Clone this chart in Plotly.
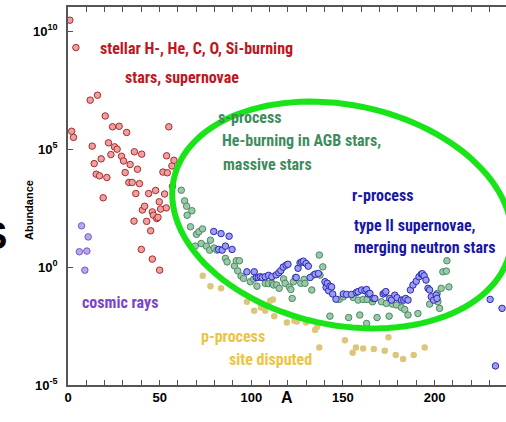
import numpy as np
import plotly.graph_objects as go

# ---------------- data (mass number A, log10 abundance) ----------------
red_A = [1, 2, 3, 4.3, 12.1, 13.2, 14.3, 15.4, 16.1, 17.2, 18.1, 19.2, 20.3, 21.2, 22.1, 23.4,
         24.3, 25.4, 26.8, 27.9, 29.2, 30.3, 31.2, 32.0, 33.2, 33.9, 35.0, 36.0, 36.2, 37.0,
         37.9, 39.0, 40.0, 40.2, 40.6, 41.8, 42.9, 44.0, 45.1, 46.0, 46.0, 46.6, 47.8, 48.4,
         49.1, 49.8, 50.0, 50.5, 51.8, 52.7, 53.6, 53.8, 54.2, 55.0, 56.7, 57.0, 57.8]
red_logY = [10.47, 5.76, 5.5, 9.31, 7.08, 5.13, 4.39, 3.94, 7.29, 3.87, 4.59, 2.94, 6.41, 3.8,
            5.27, 4.77, 5.95, 5.1, 5.0, 5.97, 4.70, 4.5, 4.01, 5.71, 3.59, 4.35, 3.59, 1.95,
            4.89, 3.12, 4.15, 3.54, 0.75, 4.79, 2.42, 2.58, 1.94, 3.12, 1.54, 2.34, 0.34, 2.2,
            3.25, 2.06, 2.11, 2.77, -0.13, 2.46, 4.03, 3.1, 2.51, 4.72, 4.0, 5.95, 4.29, 3.43,
            4.53]

purple_A = [6.2, 7.4, 9.2, 10.3, 11.0]
purple_logY = [0.65, 1.75, -0.13, 0.68, 1.28]

green_A = [61.8, 63.6, 64.7, 65.0, 66.8, 67.6, 69.4, 70.1, 71.4, 72.7, 73.4, 75.5, 77.3, 77.7,
           79.7, 81.3, 85.9, 86.8, 90.8, 91.8, 92.6, 93.5, 94.4, 95.8, 99.5, 101.3, 103.1,
           107.6, 109.4, 111.4, 112.1, 113.9, 115.2, 117.6, 118.5, 120.8, 121.6, 122.3, 123.0,
           124.1, 127.0, 128.8, 129.3, 133.0, 133.9, 135.7, 137.1, 137.5, 139.0, 142.9, 148.0,
           150.2, 153.1, 155.6, 158.3, 159.2, 161.0, 162.9, 163.2, 166.1, 168.6, 171.0, 173.7,
           175.2, 177.0, 179.2, 181.9, 183.7, 185.5, 190.9, 197.3, 200.0, 201.4, 201.8, 202.7,
           203.6, 204.5, 206.4, 206.7, 207.8]
green_logY = [3.26, 2.81, 2.58, 2.2, 1.71, 2.39, 0.89, 1.39, 1.5, 1.0, 1.62, 0.89, 0.72, 1.14,
              0.81, 0.72, 0.37, 0.22, 0.05, 0.27, -0.16, 0.27, -0.38, -0.48, -0.62, -0.51, -0.81,
              -0.69, -0.7, -0.69, -0.76, -0.76, -0.9, -0.5, -0.69, -0.85, -0.95, -1.33, -0.62,
              -0.44, -0.69, -0.52, -0.69, -0.97, -0.34, -0.3, 0.51, -0.34, 0.01, -2.08, -1.37,
              -1.26, -2.14, -1.29, -1.4, -2.03, -1.37, -2.39, -1.37, -1.47, -2.14, -1.47, -1.54,
              -2.08, -1.57, -1.61, -1.71, -1.8, -2.03, -1.97, -1.57, -1.26, -1.12, -1.47, -1.75,
              -0.9, -0.2, -0.17, 0.27, -0.84]

blue_A = [79.5, 82.2, 83.5, 84.1, 85.9, 87.9, 89.5, 97.6, 101.6, 102.7, 103.8, 104.9, 106.0,
          107.6, 109.4, 111.2, 113.6, 115.0, 116.1, 117.4, 119.0, 120.0, 124.5, 125.5, 126.6,
          127.5, 128.4, 129.9, 131.1, 132.1, 134.8, 136.6, 140.2, 140.8, 141.5, 142.2, 142.9,
          143.8, 144.4, 146.2, 150.2, 152.0, 154.7, 157.4, 158.3, 160.2, 162.0, 162.9, 163.8,
          164.7, 166.5, 167.4, 171.9, 172.8, 173.4, 175.5, 176.5, 178.3, 179.5, 181.9, 183.2,
          184.2, 185.5, 186.8, 188.2, 190.0, 191.5, 192.8, 193.3, 194.3, 195.3, 196.4, 197.3,
          198.2, 199.5, 200.9, 201.3, 230.3, 233.2, 236.8]
blue_logY = [1.51, 0.75, 1.42, 0.72, 0.89, 1.31, 0.75, -0.2, -0.2, -0.44, -0.44, -0.41, -0.44,
             -0.41, -0.35, -0.41, -0.33, -0.24, -0.15, 0.0, 0.08, 0.12, -0.44, -0.05, 0.18, 0.22,
             0.25, 0.15, 0.04, -0.44, -0.3, -0.27, -0.62, -0.86, -0.69, -1.0, -0.81, -0.84,
             -1.14, -1.36, -1.14, -1.16, -1.16, -1.07, -1.04, -0.97, -1.0, -0.95, -1.14, -1.12,
             -1.33, -1.33, -1.14, -1.09, -1.04, -1.33, -1.4, -1.19, -1.3, -1.4, -1.4, -1.33,
             -1.4, -0.97, -0.76, -0.6, -0.41, -0.3, -0.28, -0.37, -0.55, -0.9, -0.97, -1.26,
             -1.4, -1.19, -1.33, -1.37, -4.19, -1.75]

gold_A = [73.5, 77.7, 83.5, 97.6, 101.6, 105.3, 107.6, 110.3, 111.8, 112.5, 119.4, 123.5, 124.8,
          129.9, 134.8, 136.0, 137.1, 151.1, 155.3, 157.1, 161.0, 166.8, 172.8, 174.8, 178.8,
          182.8, 188.6, 194.6]
gold_logY = [-0.37, -0.81, -0.9, -1.47, -1.85, -1.71, -1.85, -1.43, -1.37, -2.08, -2.35, -2.28,
             -2.31, -2.35, -2.67, -2.53, -3.41, -3.1, -3.63, -3.41, -3.45, -3.47, -3.55, -2.98,
             -3.73, -3.9, -3.73, -3.41]

y_tickvals = [1e-5, 1e0, 1e5, 1e10]
y_ticktext = ["10<sup>-5</sup>", "10<sup>0</sup>", "10<sup>5</sup>", "10<sup>10</sup>"]
x_tickvals = [0, 50, 100, 150, 200]

# ---------------- figure ----------------
W, H = 506, 422
ML, MR, MT, MB = 68, 0, 7, 37
PW, PH = W - ML - MR, H - MT - MB

fig = go.Figure()

def add_series(A, logY, fill, edge, ewidth=1.0):
    fig.add_trace(go.Scatter(
        x=A, y=10 ** np.array(logY), mode="markers",
        marker=dict(size=6.5, color=fill, line=dict(color=edge, width=ewidth)),
        showlegend=False, hoverinfo="skip"))

add_series(gold_A, gold_logY, "#dcc67c", "#dcc67c", 0)
add_series(red_A, red_logY, "#eea0a0", "#a82a2a")
add_series(purple_A, purple_logY, "#b9a6ec", "#7458c4")
add_series(green_A, green_logY, "#9cc8aa", "#4a8a62")
add_series(blue_A, blue_logY, "#9c9cf2", "#2a2ab4")

# green ellipse (pixel geometry -> paper coords)
cx, cy, a, b, th = 342, 215, 172, 110, np.radians(12)
t = np.linspace(0, 2 * np.pi, 120)
px = cx + a * np.cos(t) * np.cos(th) - b * np.sin(t) * np.sin(th)
py = cy + a * np.cos(t) * np.sin(th) + b * np.sin(t) * np.cos(th)
ux = (px - ML) / PW
uy = (H - MB - py) / PH
path = "M " + " L ".join(f"{x:.4f},{y:.4f}" for x, y in zip(ux, uy)) + " Z"
fig.add_shape(type="path", path=path, xref="paper", yref="paper",
              line=dict(color="#18e418", width=6), layer="above")

NARROW = "Liberation Sans Narrow, Arial Narrow, Roboto Condensed, Liberation Sans, sans-serif"

def label(text, x_px, y_px, color, size=16):
    fig.add_annotation(text=text, x=(x_px - ML) / PW, y=(H - MB - y_px) / PH,
                       xref="paper", yref="paper", xanchor="left", yanchor="middle",
                       showarrow=False,
                       font=dict(family=NARROW, size=size, color=color, weight="bold"))

label("stellar H-, He, C, O, Si-burning", 98, 48, "#c0161e")
label("stars, supernovae", 123, 77, "#c0161e")
label("s-process", 216, 117, "#3f8c5e")
label("He-burning in AGB stars,", 220, 140, "#3f8c5e")
label("massive stars", 221, 164, "#3f8c5e")
label("r-process", 350, 195, "#1818a4")
label("type II supernovae,", 352, 226, "#1818a4")
label("merging neutron stars", 352, 247, "#1818a4")
label("cosmic rays", 80, 302, "#7c44c8")
label("p-process", 199, 336, "#ecc444")
label("site disputed", 227, 359, "#ecc444")

# axis titles and stray glyph
fig.add_annotation(text="Abundance", x=(21 - ML) / PW, y=(H - MB - 210) / PH,
                   xref="paper", yref="paper", showarrow=False, textangle=-90,
                   font=dict(family="Liberation Sans, Arial, sans-serif", size=11,
                             color="black", weight="bold"))
fig.add_annotation(text="A", x=(287 - ML) / PW, y=(H - MB - 408) / PH,
                   xref="paper", yref="paper", showarrow=False,
                   font=dict(family="Liberation Sans, Arial, sans-serif", size=16,
                             color="black", weight="bold"))
fig.add_annotation(text="S", x=(9 - ML) / PW, y=(H - MB - 236) / PH,
                   xref="paper", yref="paper", xanchor="right", showarrow=False,
                   font=dict(family="Liberation Sans, Arial, sans-serif", size=38,
                             color="black", weight="bold"))

axis_font = dict(family="Liberation Sans, Arial, sans-serif", size=13, color="black",
                 weight="bold")
fig.update_xaxes(range=[0, PW / 1.833], tickvals=x_tickvals, ticks="inside", ticklen=5,
                 tickcolor="#555", linecolor="#555", linewidth=1.5, showline=True,
                 mirror="ticks", showgrid=False, zeroline=False, tickfont=axis_font,
                 minor=dict(dtick=10, ticks="inside", ticklen=5, tickcolor="#555"))
fig.update_yaxes(type="log", range=[-5, 11.03], tickvals=y_tickvals, ticktext=y_ticktext,
                 ticks="inside", ticklen=5, tickcolor="#555", linecolor="#555",
                 linewidth=1.5, showline=True, showgrid=False, zeroline=False,
                 tickfont=axis_font, ticklabelstandoff=6)

fig.update_layout(width=W, height=H, margin=dict(l=ML, r=MR, t=MT, b=MB),
                  paper_bgcolor="white", plot_bgcolor="white")

fig.write_html("out.html")
